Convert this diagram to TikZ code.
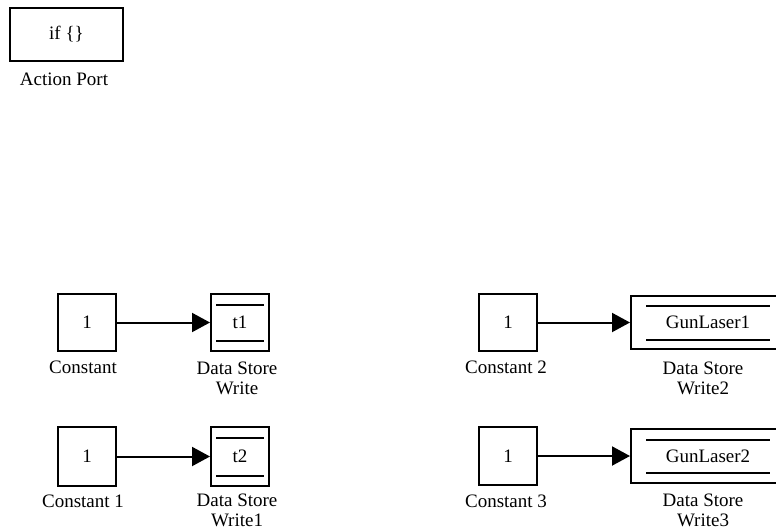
\documentclass[tikz,border=0pt]{standalone}
\usepackage{fontspec}
\setmainfont{Liberation Serif}
\usetikzlibrary{arrows.meta,calc}
\begin{document}
\begin{tikzpicture}[x=1pt,y=-1pt,
  every node/.style={font=\fontsize{19}{20}\selectfont, inner sep=0pt},
  blk/.style={draw, line width=2pt, minimum width=58pt},
  store/.style={draw, line width=2pt},
  bar/.style={line width=2pt},
  sig/.style={line width=2pt, -{Triangle[length=18pt,width=19pt]}},
  lbl/.style={align=center}]
\useasboundingbox (0,0) rectangle (776,531);
\clip (0,0) rectangle (776,531);

% action port
\node[blk, minimum width=113pt, minimum height=53pt] (ap) at (66.5,34.5) {if \{\}};
\node[lbl] (apl) at (64,79) {Action Port};

% constants
\node[blk, minimum height=57pt] (c0) at (87,322.5) {1};
\node[blk, minimum height=59pt] (c1) at (87,456.5) {1};
\node[blk, minimum height=57pt] (c2) at (508,322.5) {1};
\node[blk, minimum height=58pt] (c3) at (508,456) {1};

% data store write blocks
\node[store, minimum width=58pt, minimum height=57pt] (d0) at (240,322.5) {t1};
\node[store, minimum width=58pt, minimum height=59pt] (d1) at (240,456.5) {t2};
\node[store, minimum width=154pt, minimum height=53pt] (d2) at (708,322.5) {GunLaser1};
\node[store, minimum width=154pt, minimum height=54pt] (d3) at (708,456) {GunLaser2};

% double bars inside each store
\foreach \n/\dx/\dy in {d0/6/12, d1/6/12, d2/16/11, d3/16/12}{
  \draw[bar] ($(\n.north west)+(\dx,\dy)$) -- ($(\n.north east)+(-\dx,\dy)$);
  \draw[bar] ($(\n.south west)+(\dx,-\dy+1)$) -- ($(\n.south east)+(-\dx,-\dy+1)$);
}

% signal lines
\draw[sig] (c0.east) -- (d0.west);
\draw[sig] (c1.east) -- (d1.west);
\draw[sig] (c2.east) -- (d2.west);
\draw[sig] (c3.east) -- (d3.west);

% block names
\node[lbl] (c0l) at (83,367) {Constant};
\node[lbl] (c1l) at (83,501) {Constant 1};
\node[lbl] (c2l) at (506,367) {Constant 2};
\node[lbl] (c3l) at (506,501) {Constant 3};
\node[lbl] (d0l) at (237,378) {Data Store\\Write};
\node[lbl] (d1l) at (237,510) {Data Store\\Write1};
\node[lbl] (d2l) at (703,378) {Data Store\\Write2};
\node[lbl] (d3l) at (703,510) {Data Store\\Write3};
\end{tikzpicture}
\end{document}
